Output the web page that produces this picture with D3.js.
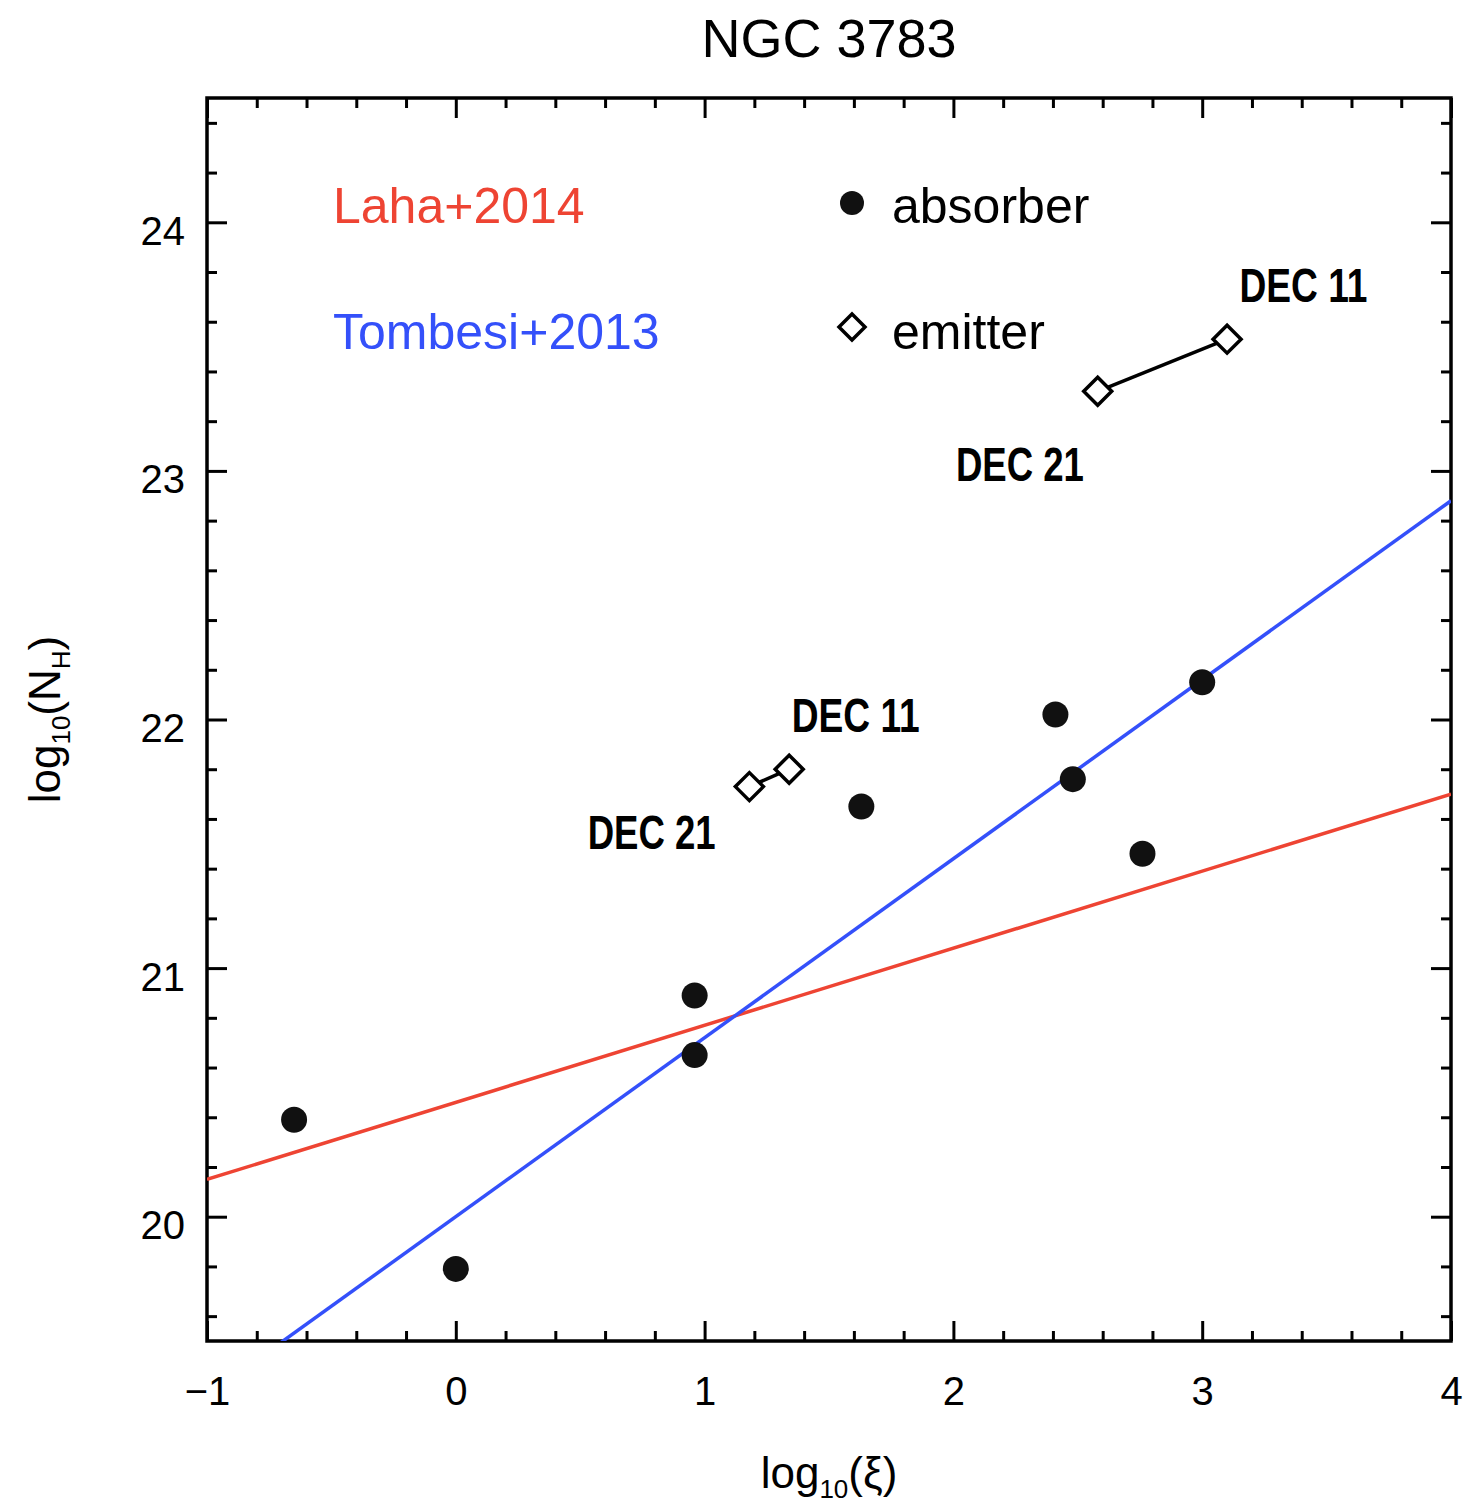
<!DOCTYPE html>
<html>
<head>
<meta charset="utf-8">
<script src="https://cdn.jsdelivr.net/npm/d3@7"></script>
<style>
  body { margin: 0; background: #fff; }
  text { font-family: "Liberation Sans", Arial, Helvetica, sans-serif; }
</style>
</head>
<body>
<svg id="chart" width="1463" height="1507"></svg>
<script>
//----------------------------------------------------------- DATA
var absorberXi = [-0.65, 0.0, 0.96, 0.96, 1.63, 2.41, 2.48, 2.76, 3.0];
var absorberNH = [20.39, 19.79, 20.89, 20.65, 21.65, 22.02, 21.76, 21.46, 22.15];

// emitter pairs, each joined by a line (DEC 21 -> DEC 11)
var emitterXi = [[1.18, 1.34], [2.58, 3.10]];
var emitterNH = [[21.73, 21.80], [23.32, 23.53]];

var dateLabels = ["DEC 11", "DEC 21", "DEC 11", "DEC 21"];
var dateXi = [3.15, 2.01, 1.35, 0.53];
var dateNH = [23.68, 22.96, 21.95, 21.48];

// fits: log NH = a + b log xi
var fitNames = ["Laha+2014", "Tombesi+2013"];
var fitA = [20.46, 20.0];
var fitB = [0.31, 0.72];
var fitColors = ["#ee4433", "#3450fa"];

var xTicks = [-1, 0, 1, 2, 3, 4];
var yTicks = [20, 21, 22, 23, 24];

//----------------------------------------------------------- SETUP
var svg = d3.select("#chart");
var pLeft = 207, pRight = 1451, pTop = 98, pBottom = 1341;

var x = d3.scaleLinear().domain([-1, 4]).range([pLeft, pRight]);
var y = d3.scaleLinear().domain([19.5, 24.5]).range([pBottom, pTop]);

var xMinor = d3.range(-1, 4.001, 0.2).filter(function(v){ return Math.abs(v - Math.round(v)) > 1e-6; });
var yMinor = d3.range(19.6, 24.5, 0.2).filter(function(v){ return Math.abs(v - Math.round(v)) > 1e-6; });

svg.append("defs").append("clipPath").attr("id", "clip")
  .append("rect").attr("x", pLeft).attr("y", pTop)
  .attr("width", pRight - pLeft).attr("height", pBottom - pTop);

//----------------------------------------------------------- AXES
function styleAxis(g) {
  g.select(".domain").remove();
  g.selectAll(".tick line").attr("stroke", "#000").attr("stroke-width", 3);
  g.selectAll(".tick text").attr("fill", "#000").attr("font-size", 40)
    .attr("font-family", "'Liberation Sans', Arial, sans-serif");
}

svg.append("g").attr("transform", "translate(0," + pBottom + ")")
  .call(d3.axisBottom(x).tickValues(xTicks).tickSizeInner(-20).tickSizeOuter(0).tickPadding(36)
    .tickFormat(d3.format("d")))
  .call(styleAxis);
svg.append("g").attr("transform", "translate(0," + pBottom + ")")
  .call(d3.axisBottom(x).tickValues(xMinor).tickSizeInner(-10).tickSizeOuter(0).tickFormat(""))
  .call(styleAxis);
svg.append("g").attr("transform", "translate(0," + pTop + ")")
  .call(d3.axisTop(x).tickValues(xTicks).tickSizeInner(-20).tickSizeOuter(0).tickFormat(""))
  .call(styleAxis);
svg.append("g").attr("transform", "translate(0," + pTop + ")")
  .call(d3.axisTop(x).tickValues(xMinor).tickSizeInner(-10).tickSizeOuter(0).tickFormat(""))
  .call(styleAxis);

var gy = svg.append("g").attr("transform", "translate(" + pLeft + ",0)")
  .call(d3.axisLeft(y).tickValues(yTicks).tickSizeInner(-20).tickSizeOuter(0).tickPadding(22)
    .tickFormat(d3.format("d")))
  .call(styleAxis);
gy.selectAll(".tick text").attr("dy", "0.55em");
svg.append("g").attr("transform", "translate(" + pLeft + ",0)")
  .call(d3.axisLeft(y).tickValues(yMinor).tickSizeInner(-10).tickSizeOuter(0).tickFormat(""))
  .call(styleAxis);
svg.append("g").attr("transform", "translate(" + pRight + ",0)")
  .call(d3.axisRight(y).tickValues(yTicks).tickSizeInner(-20).tickSizeOuter(0).tickFormat(""))
  .call(styleAxis);
svg.append("g").attr("transform", "translate(" + pRight + ",0)")
  .call(d3.axisRight(y).tickValues(yMinor).tickSizeInner(-10).tickSizeOuter(0).tickFormat(""))
  .call(styleAxis);

svg.append("rect").attr("x", pLeft).attr("y", pTop)
  .attr("width", pRight - pLeft).attr("height", pBottom - pTop)
  .attr("fill", "none").attr("stroke", "#000").attr("stroke-width", 3.5);

//----------------------------------------------------------- FIT LINES
var line = d3.line().x(function(d){ return x(d[0]); }).y(function(d){ return y(d[1]); });
svg.append("g").attr("clip-path", "url(#clip)")
  .selectAll("path").data(fitNames).enter().append("path")
    .attr("d", function(d, i){
      return line([-1, 4].map(function(v){ return [v, fitA[i] + fitB[i] * v]; }));
    })
    .attr("fill", "none")
    .attr("stroke", function(d, i){ return fitColors[i]; })
    .attr("stroke-width", 3.5);

//----------------------------------------------------------- POINTS
var diamond = function(cx, cy, r) {
  return "M" + cx + "," + (cy - r) + "L" + (cx + r) + "," + cy + "L" + cx + "," + (cy + r) + "L" + (cx - r) + "," + cy + "Z";
};

svg.append("g").selectAll("path").data(emitterXi).enter().append("path")
  .attr("d", function(d, i){ return line(d.map(function(v, j){ return [v, emitterNH[i][j]]; })); })
  .attr("stroke", "#000").attr("stroke-width", 3.5).attr("fill", "none");

emitterXi.forEach(function(pair, i){
  svg.append("g").selectAll("path").data(pair).enter().append("path")
    .attr("d", function(d, j){ return diamond(x(d), y(emitterNH[i][j]), 14); })
    .attr("fill", "#fff").attr("stroke", "#000").attr("stroke-width", 3.5);
});

svg.append("g").selectAll("circle").data(absorberXi).enter().append("circle")
  .attr("cx", function(d){ return x(d); })
  .attr("cy", function(d, i){ return y(absorberNH[i]); })
  .attr("r", 13).attr("fill", "#111");

//----------------------------------------------------------- ANNOTATIONS
svg.append("g").selectAll("text").data(dateLabels).enter().append("text")
  .attr("x", function(d, i){ return x(dateXi[i]); })
  .attr("y", function(d, i){ return y(dateNH[i]); })
  .attr("font-family", "'Liberation Sans Narrow', 'DejaVu Sans Condensed', sans-serif")
  .attr("font-weight", "bold").attr("font-size", 49)
  .attr("textLength", 128).attr("lengthAdjust", "spacingAndGlyphs")
  .text(function(d){ return d; });

//----------------------------------------------------------- LEGEND
svg.append("g").selectAll("text").data(fitNames).enter().append("text")
  .attr("x", 333).attr("y", function(d, i){ return 223 + i * 126; })
  .attr("font-size", 50).attr("fill", function(d, i){ return fitColors[i]; })
  .text(function(d){ return d; });

svg.append("circle").attr("cx", 852).attr("cy", 203).attr("r", 12).attr("fill", "#111");
svg.append("path").attr("d", diamond(852, 327, 13))
  .attr("fill", "#fff").attr("stroke", "#000").attr("stroke-width", 3.5);
svg.append("text").attr("x", 892).attr("y", 223).attr("font-size", 50).text("absorber");
svg.append("text").attr("x", 892).attr("y", 349).attr("font-size", 50).text("emitter");

//----------------------------------------------------------- TITLES
svg.append("text").attr("x", (pLeft + pRight) / 2).attr("y", 57)
  .attr("text-anchor", "middle").attr("font-size", 54).text("NGC 3783");

var xl = svg.append("text").attr("x", (pLeft + pRight) / 2).attr("y", 1488)
  .attr("text-anchor", "middle").attr("font-size", 44);
xl.append("tspan").text("log");
xl.append("tspan").attr("font-size", 26).attr("dy", 10).text("10");
xl.append("tspan").attr("dy", -10).text("(ξ)");

var yl = svg.append("text")
  .attr("transform", "translate(60," + ((pTop + pBottom) / 2) + ") rotate(-90)")
  .attr("text-anchor", "middle").attr("font-size", 44);
yl.append("tspan").text("log");
yl.append("tspan").attr("font-size", 26).attr("dy", 10).text("10");
yl.append("tspan").attr("dy", -10).text("(N");
yl.append("tspan").attr("font-size", 26).attr("dy", 10).text("H");
yl.append("tspan").attr("dy", -10).text(")");
</script>
</body>
</html>
